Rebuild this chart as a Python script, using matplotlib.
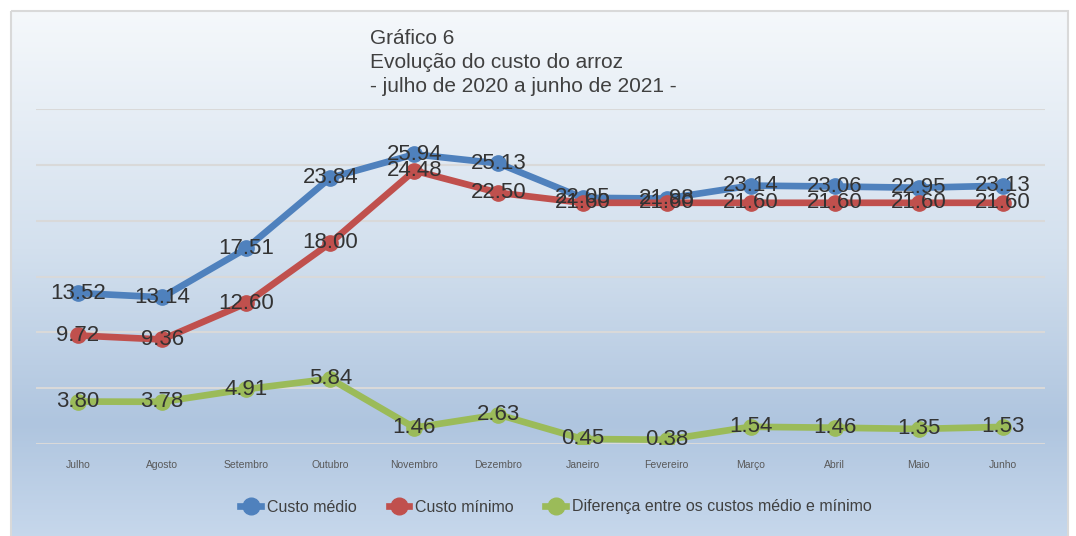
import numpy as np
import matplotlib
matplotlib.use("Agg")
import matplotlib.pyplot as plt
from matplotlib.colors import LinearSegmentedColormap
from matplotlib.patches import Rectangle
from matplotlib.lines import Line2D

months = ["Julho", "Agosto", "Setembro", "Outubro", "Novembro", "Dezembro",
          "Janeiro", "Fevereiro", "Março", "Abril", "Maio", "Junho"]
custo_medio = [13.52, 13.14, 17.51, 23.84, 25.94, 25.13, 22.05, 21.98, 23.14, 23.06, 22.95, 23.13]
custo_minimo = [9.72, 9.36, 12.60, 18.00, 24.48, 22.50, 21.60, 21.60, 21.60, 21.60, 21.60, 21.60]
diferenca = [3.80, 3.78, 4.91, 5.84, 1.46, 2.63, 0.45, 0.38, 1.54, 1.46, 1.35, 1.53]
series_names = ["Custo médio", "Custo mínimo", "Diferença entre os custos médio e mínimo"]
colors = ["#4f81bd", "#c0504d", "#9bbb59"]
title_lines = ["Gráfico 6", "Evolução do custo do arroz", "- julho de 2020 a junho de 2021 -"]

plt.rcParams['font.family'] = ['Liberation Sans', 'DejaVu Sans']

W, H = 1076, 536
fig = plt.figure(figsize=(W / 100, H / 100), dpi=100)
fig.patch.set_facecolor("white")

# background gradient panel
bg = fig.add_axes([0, 0, 1, 1], zorder=0)
bg.set_xlim(0, W)
bg.set_ylim(H, 0)
bg.axis("off")
cmap = LinearSegmentedColormap.from_list(
    "bg", [(0.0, "#f5f8fb"), (0.45, "#d3e0ee"), (0.78, "#afc5df"), (1.0, "#c7d8ec")])
grad = np.linspace(0, 1, 256).reshape(-1, 1)
bg.imshow(grad, cmap=cmap, aspect="auto", extent=[11, 1068, 540, 11], zorder=0)
bg.add_patch(Rectangle((10.5, 10.5), 1057, 540, fill=False, edgecolor="#d9d9d9", lw=1.5, zorder=1))

# plot axes: x from 36 to 1045 px, y 0 at 444 px, 30 at 109 px
left, right = 36, 1045
y0, y30 = 444, 109
ax = fig.add_axes([left / W, 1 - y0 / H, (right - left) / W, (y0 - y30) / H], zorder=2)
ax.patch.set_alpha(0)
x = np.arange(len(months))
ax.set_xlim(-0.5, len(months) - 0.5)
ax.set_ylim(0, 30)
ax.set_yticks(np.arange(0, 31, 5))
ax.yaxis.grid(True, color="#d9d9d9", lw=1.5)
ax.set_axisbelow(True)
ax.tick_params(axis="y", left=False, labelleft=False)
ax.tick_params(axis="x", bottom=False, pad=8, labelsize=7.5, labelcolor="#595959")
ax.set_xticks(x)
ax.set_xticklabels(months)
for s in ax.spines.values():
    s.set_visible(False)

for vals, c, name in zip([custo_medio, custo_minimo, diferenca], colors, series_names):
    ax.plot(x, vals, color=c, lw=4.8, marker="o", ms=11, mec=c, mfc=c,
            solid_capstyle="round", label=name, zorder=3)
    for xi, v in zip(x, vals):
        ax.text(xi, v, f"{v:.2f}", ha="center", va="center", fontsize=16,
                color="#333333", zorder=4)

handles = [Line2D([0], [0], color=c, lw=4.8, marker="o", ms=12) for c in colors]
fig.legend(handles, series_names, loc="center", bbox_to_anchor=(556 / W, 1 - 507 / H),
           ncol=3, frameon=False, fontsize=11.5, labelcolor="#404040",
           handlelength=1.3, handletextpad=0.35, columnspacing=2.0)

for i, t in enumerate(title_lines):
    fig.text(370 / W, 1 - (38 + 24 * i) / H, t, ha="left", va="center",
             fontsize=15, color="#404040")

fig.savefig("out.png", dpi=100)
